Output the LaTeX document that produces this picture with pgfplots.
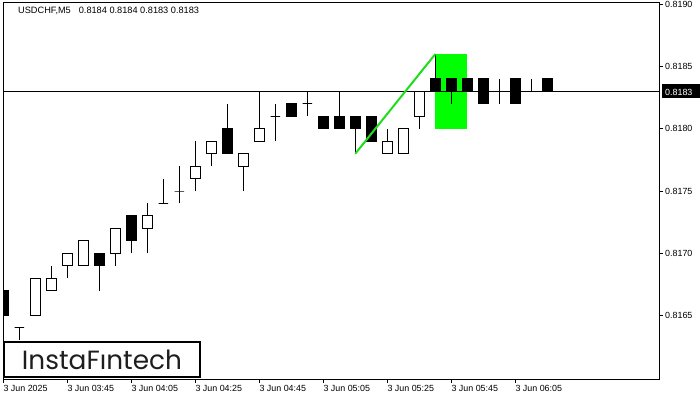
\documentclass[border=0pt]{standalone}
\usepackage{fontspec}
\setmainfont{Liberation Sans}
\newfontfamily\logofont{Poppins}
\usepackage{graphicx}
\usepackage{pgfplots}
\pgfplotsset{compat=1.18}

\definecolor{patternfill}{RGB}{0,255,0}
\definecolor{patternline}{RGB}{30,220,30}
\definecolor{logotext}{RGB}{30,30,30}

% one bar: index, open, high, low, close
\newcommand\candle[5]{%
  \pgfmathsetmacro\lo{min(#2,#5)}%
  \pgfmathsetmacro\hi{max(#2,#5)}%
  \pgfmathsetmacro\xl{#1-0.3}%
  \pgfmathsetmacro\xr{#1+0.3}%
  \ifdim #5pt<#2pt \def\fc{black}\else\def\fc{white}\fi
  \edef\tmp{%
    \noexpand\addplot[black, line width=1pt] coordinates {(#1,#4) (#1,#3)};
    \noexpand\addplot[draw=black, fill=\fc, line width=1pt]
      coordinates {(\xl,\lo) (\xr,\lo) (\xr,\hi) (\xl,\hi)} -- cycle;
  }\tmp
}

\begin{document}
\begin{tikzpicture}
\path[use as bounding box] (0pt,0pt) rectangle (700pt,400pt);
\begin{axis}[
    at={(3pt,21pt)}, anchor=south west,
    scale only axis, width=656pt, height=376pt,
    xmin=-0.02, xmax=40.98,
    ymin=0.81599, ymax=0.81901,
    clip mode=individual,
    axis line style={line width=1pt},
    xtick={0,4,...,32},
    xticklabels={3 Jun 2025, 3 Jun 03:45, 3 Jun 04:05, 3 Jun 04:25, 3 Jun 04:45,
                 3 Jun 05:05, 3 Jun 05:25, 3 Jun 05:45, 3 Jun 06:05},
    ytick={0.8165,0.817,0.8175,0.818,0.8185,0.819},
    yticklabels={0.8165,0.8170,0.8175,0.8180,0.8185,0.8190},
    scaled ticks=false,
    xtick pos=left, ytick pos=right, yticklabel pos=right,
    tick align=outside, major tick length=4pt,
    every tick/.style={black, line width=1pt},
    tick label style={font=\fontsize{8.9}{10}\selectfont, inner sep=0pt,
                      /pgf/number format/assume math mode=true},
    xticklabel style={anchor=north west, yshift=-2pt},
    yticklabel style={anchor=west, xshift=2pt},
]
% pattern zone
\addplot[draw=none, fill=patternfill]
  coordinates {(27,0.8180) (29,0.8180) (29,0.8186) (27,0.8186)} -- cycle;
% current price line
\addplot[black, line width=1pt] coordinates {(-1,0.8183) (42,0.8183)};

\candle{0}{0.8167}{0.8167}{0.8164}{0.8165}
\candle{1}{0.8164}{0.8164}{0.8163}{0.8164}
\candle{2}{0.8165}{0.8168}{0.8165}{0.8168}
\candle{3}{0.8167}{0.8169}{0.8167}{0.8168}
\candle{4}{0.8169}{0.8170}{0.8168}{0.8170}
\candle{5}{0.8169}{0.8171}{0.8169}{0.8171}
\candle{6}{0.8170}{0.8170}{0.8167}{0.8169}
\candle{7}{0.8170}{0.8172}{0.8169}{0.8172}
\candle{8}{0.8173}{0.8173}{0.8170}{0.8171}
\candle{9}{0.8172}{0.8174}{0.8170}{0.8173}
\candle{10}{0.8174}{0.8176}{0.8174}{0.8174}
\candle{11}{0.8175}{0.8177}{0.8174}{0.8175}
\candle{12}{0.8176}{0.8179}{0.8175}{0.8177}
\candle{13}{0.8178}{0.8179}{0.8177}{0.8179}
\candle{14}{0.8180}{0.8182}{0.8178}{0.8178}
\candle{15}{0.8177}{0.8178}{0.8175}{0.8178}
\candle{16}{0.8179}{0.8183}{0.8179}{0.8180}
\candle{17}{0.8181}{0.8182}{0.8179}{0.8181}
\candle{18}{0.8182}{0.8182}{0.8181}{0.8181}
\candle{19}{0.8182}{0.8183}{0.8181}{0.8182}
\candle{20}{0.8181}{0.8181}{0.8180}{0.8180}
\candle{21}{0.8181}{0.8183}{0.8180}{0.8180}
\candle{22}{0.8181}{0.8181}{0.8178}{0.8180}
\candle{23}{0.8181}{0.8181}{0.8179}{0.8179}
\candle{24}{0.8178}{0.8180}{0.8178}{0.8179}
\candle{25}{0.8178}{0.8180}{0.8178}{0.8180}
\candle{26}{0.8181}{0.8183}{0.8180}{0.8183}
\candle{27}{0.8184}{0.8186}{0.8183}{0.8183}
\candle{28}{0.8184}{0.8184}{0.8182}{0.8183}
\candle{29}{0.8184}{0.8184}{0.8183}{0.8183}
\candle{30}{0.8184}{0.8184}{0.8182}{0.8182}
\candle{31}{0.8183}{0.8184}{0.8182}{0.8183}
\candle{32}{0.8184}{0.8184}{0.8182}{0.8182}
\candle{33}{0.8183}{0.8184}{0.8183}{0.8183}
\candle{34}{0.8184}{0.8184}{0.8183}{0.8183}

% pattern line
\addplot[patternline, line width=2pt] coordinates {(22,0.8178) (27,0.8186)};
\end{axis}

% symbol caption
\node[anchor=base west, inner sep=0pt, font=\fontsize{9.2}{11}\selectfont]
  at (18pt,386pt) {USDCHF,M5\hspace{8pt}0.8184 0.8184 0.8183 0.8183};
% price tag
\fill[black] (662pt,302pt) rectangle (700pt,316pt);
\node[anchor=base west, inner sep=0pt, text=white, font=\fontsize{8.9}{10}\selectfont]
  at (665pt,305pt) {0.8183};
% logo
\draw[line width=2pt, fill=white] (4pt,58.3pt) rectangle (200pt,22.7pt);
\node[text=logotext, inner sep=0pt] at (102pt,40.5pt)
  {\resizebox{160pt}{!}{\logofont InstaFıntech}};
\end{tikzpicture}
\end{document}
